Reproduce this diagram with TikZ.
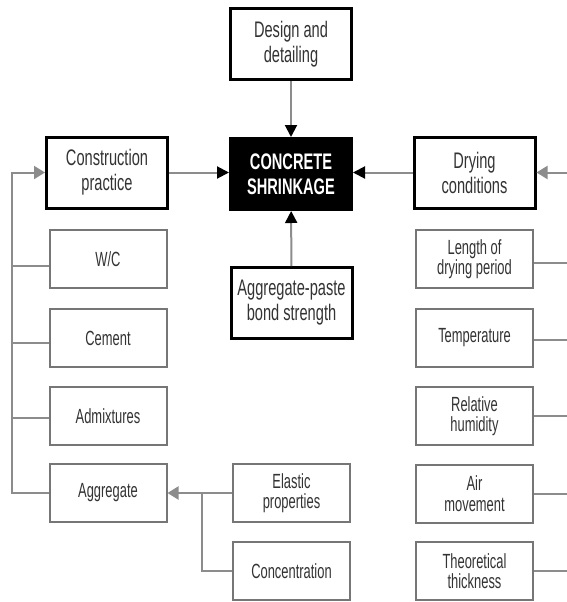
\documentclass[tikz,border=0pt]{standalone}
\usepackage{fontspec}
\setmainfont{Liberation Sans}
\newfontfamily\bigf{Liberation Sans}[FakeStretch=0.65]
\newfontfamily\smallf{Liberation Sans}[FakeStretch=0.63]
\usetikzlibrary{arrows.meta,calc}
\definecolor{linegray}{HTML}{8C8C8C}
\definecolor{boxgray}{HTML}{767676}
\definecolor{txt}{HTML}{333333}
\begin{document}
\begin{tikzpicture}[x=1pt,y=-1pt,
 big/.style={draw=black, line width=3pt, fill=white, minimum width=121pt, minimum height=71pt, align=center, font=\bigf\fontsize{22.5}{25}\selectfont, text=txt, inner sep=0pt},
 small/.style={draw=boxgray, line width=2pt, fill=white, minimum width=117pt, minimum height=58pt, align=center, font=\smallf\fontsize{20.5}{20.5}\selectfont, text=txt, inner sep=0pt},
 conn/.style={draw=linegray, line width=2pt},
 blackarrow/.style={conn, -{Triangle[length=12pt,width=12pt,color=black,fill=black]}},
 grayarrow/.style={conn, -{Triangle[length=11pt,width=13pt]}},
]
\useasboundingbox (0,0) rectangle (567,602);
\clip (0,0) rectangle (567,602);
% main boxes
\node[big] (des) at (291,44) {Design and\\detailing};
\node[big, fill=black, text=white, font=\bigf\fontsize{22.5}{25}\selectfont\bfseries] (shr) at (291,174) {CONCRETE\\SHRINKAGE};
\node[big] (cons) at (107,172.5) {Construction\\practice};
\node[big] (dry) at (474.5,172.5) {Drying\\conditions};
\node[big] (agp) at (291.5,303) {Aggregate-paste\\bond strength};
% left column
\node[small] (wc) at (108,259) {W/C};
\node[small] (cem) at (108,338) {Cement};
\node[small] (adm) at (108,416) {Admixtures};
\node[small] (agg) at (108,493) {Aggregate};
\node[small] (ela) at (291.5,493) {Elastic\\properties};
\node[small] (conc) at (291.5,571) {Concentration};
% right column
\node[small] (len) at (474.5,259) {Length of\\drying period};
\node[small] (tem) at (474.5,338) {Temperature};
\node[small] (rh) at (474.5,416) {Relative\\humidity};
\node[small] (air) at (474.5,493.5) {Air\\movement};
\node[small] (theo) at (474.5,571) {Theoretical\\thickness};
% arrows into shrinkage
\draw[blackarrow] (des) -- (shr);
\draw[blackarrow] (agp) -- (shr);
\draw[blackarrow] (cons.east) -- (cons.east -| shr.west);
\draw[blackarrow] (dry.west) -- (dry.west -| shr.east);
% left bus
\coordinate (lbus) at (12,172.5);
\draw[grayarrow] (agg.west) -| (lbus) -- (cons.west);
\coordinate (wcl) at ($(wc.west)+(0,7)$);
\coordinate (ceml) at ($(cem.west)+(0,5)$);
\coordinate (adml) at ($(adm.west)+(0,2)$);
\draw[conn] (wcl) -- (wcl -| lbus);
\draw[conn] (ceml) -- (ceml -| lbus);
\draw[conn] (adml) -- (adml -| lbus);
% aggregate sub-branch
\draw[grayarrow] (ela.west) -- (agg.east);
\coordinate (jn) at (202,493);
\draw[conn] (conc.west) -| (jn);
% right bus
\coordinate (rbus) at (574,172.5);
\draw[grayarrow] (theo.east) -| (rbus) -- (dry.east);
\coordinate (lenl) at ($(len.east)+(0,4)$);
\coordinate (teml) at ($(tem.east)+(0,2)$);
\draw[conn] (lenl) -- (lenl -| rbus);
\draw[conn] (teml) -- (teml -| rbus);
\draw[conn] (rh.east) -- (rh.east -| rbus);
\draw[conn] (air.east) -- (air.east -| rbus);
\end{tikzpicture}
\end{document}
